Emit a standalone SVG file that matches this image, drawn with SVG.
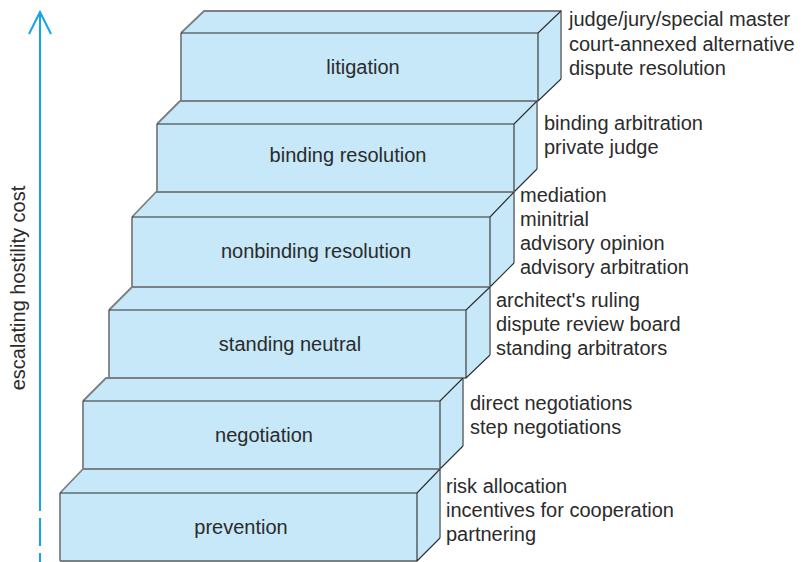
<svg xmlns="http://www.w3.org/2000/svg" width="809" height="562" viewBox="0 0 809 562">
  <style>
    .face { fill: #c6e8f8; stroke: none; }
    .edge-out { fill: none; stroke: #7b8084; stroke-width: 1.8; stroke-linejoin: round; }
    .edge-in { fill: none; stroke: #2e2e2e; stroke-width: 1.1; stroke-linejoin: round; }
    .step { font-family: "Liberation Sans", Arial, sans-serif; font-size: 20px; fill: #2b2b2b; text-anchor: middle; }
    .note { font-family: "Liberation Sans", Arial, sans-serif; font-size: 20px; fill: #2b2b2b; }
    .axis { fill: none; stroke: #17a4e2; stroke-width: 2; }
  </style>

  <!-- cost axis -->
  <g id="axis">
    <path class="axis" d="M40 12 V511 M40 518 V546 M40 553 V562"/>
    <path class="axis" d="M29 34 L40 12 L51 34" stroke-linejoin="miter"/>
    <text class="note" transform="translate(25 288) rotate(-90)" text-anchor="middle">escalating hostility cost</text>
  </g>

  <!-- litigation: L=181 R=538 T=33 B=101 back=11 -->
  <g id="litigation">
    <polygon class="face" points="181,33 204,11 561,11 561,79 538,101 181,101"/>
    <path class="edge-out" d="M181 33 L204 11 H561 V79 M181 101 H538 M181 33 V101"/>
    <path class="edge-in" d="M181 33 H538 L561 11 M538 33 V101 L561 79"/>
    <text class="step" x="363" y="74">litigation</text>
    <text class="note" x="569" y="26">judge/jury/special master</text>
    <text class="note" x="569" y="51">court-annexed alternative</text>
    <text class="note" x="569" y="75">dispute resolution</text>
  </g>

  <!-- binding resolution: L=157 R=514 T=124 B=192 back=101 -->
  <g id="binding">
    <polygon class="face" points="157,124 180,101 537,101 537,169 514,192 157,192"/>
    <path class="edge-out" d="M157 124 L180 101 H537 V169 M157 192 H514 M157 124 V192"/>
    <path class="edge-in" d="M157 124 H514 L537 101 M514 124 V192 L537 169"/>
    <text class="step" x="348" y="162">binding resolution</text>
    <text class="note" x="544" y="130">binding arbitration</text>
    <text class="note" x="544" y="154">private judge</text>
  </g>

  <!-- nonbinding resolution: L=132 R=490 T=217 B=287 back=192 -->
  <g id="nonbinding">
    <polygon class="face" points="132,217 156,192 514,192 514,263 490,287 132,287"/>
    <path class="edge-out" d="M132 217 L156 192 H514 V263 M132 287 H490 M132 217 V287"/>
    <path class="edge-in" d="M132 217 H490 L514 192 M490 217 V287 L514 263"/>
    <text class="step" x="316" y="258">nonbinding resolution</text>
    <text class="note" x="520" y="202">mediation</text>
    <text class="note" x="520" y="226">minitrial</text>
    <text class="note" x="520" y="250">advisory opinion</text>
    <text class="note" x="520" y="274">advisory arbitration</text>
  </g>

  <!-- standing neutral: L=109 R=466 T=310 B=378 back=287 -->
  <g id="standing">
    <polygon class="face" points="109,310 132,287 490,287 490,355 466,378 109,378"/>
    <path class="edge-out" d="M109 310 L132 287 H490 V355 M109 378 H466 M109 310 V378"/>
    <path class="edge-in" d="M109 310 H466 L490 287 M466 310 V378 L490 355"/>
    <text class="step" x="290" y="351">standing neutral</text>
    <text class="note" x="496" y="307">architect's ruling</text>
    <text class="note" x="496" y="331">dispute review board</text>
    <text class="note" x="496" y="355">standing arbitrators</text>
  </g>

  <!-- negotiation: L=83 R=440 T=401 B=469 back=378 -->
  <g id="negotiation">
    <polygon class="face" points="83,401 106,378 463,378 463,446 440,469 83,469"/>
    <path class="edge-out" d="M83 401 L106 378 H463 V446 M83 469 H440 M83 401 V469"/>
    <path class="edge-in" d="M83 401 H440 L463 378 M440 401 V469 L463 446"/>
    <text class="step" x="264" y="442">negotiation</text>
    <text class="note" x="470" y="410">direct negotiations</text>
    <text class="note" x="470" y="434">step negotiations</text>
  </g>

  <!-- prevention: L=60 R=417 T=493 B=561 back=469 -->
  <g id="prevention">
    <polygon class="face" points="60,493 83,469 440,469 440,538 417,561 60,561"/>
    <path class="edge-out" d="M60 493 L83 469 H440 V538 M60 561 H417 M60 493 V561"/>
    <path class="edge-in" d="M60 493 H417 L440 469 M417 493 V561 L440 538"/>
    <text class="step" x="241" y="534">prevention</text>
    <text class="note" x="446" y="493">risk allocation</text>
    <text class="note" x="446" y="517">incentives for cooperation</text>
    <text class="note" x="446" y="541">partnering</text>
  </g>
</svg>
